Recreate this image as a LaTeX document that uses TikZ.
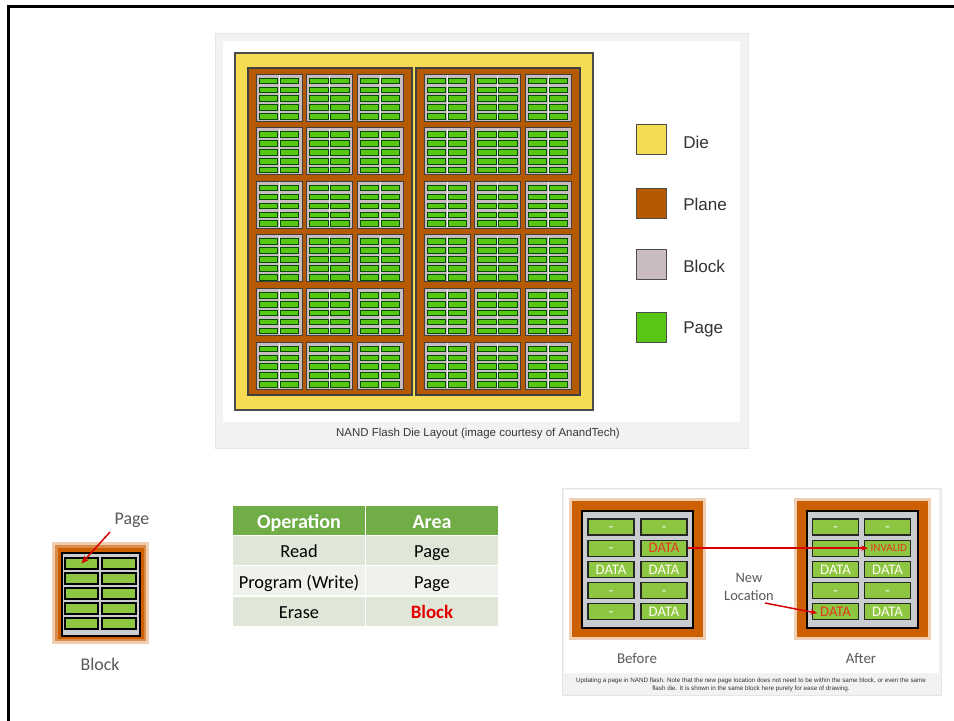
\documentclass[tikz,border=0pt]{standalone}
\usepackage{fontspec}
\setmainfont{Liberation Sans}
\newfontfamily\calfont{Carlito}
\usetikzlibrary{arrows.meta}
\definecolor{dieY}{HTML}{F6DC53}
\definecolor{planeO}{HTML}{B55A00}
\definecolor{blockG}{HTML}{C9BBC0}
\definecolor{pageG}{HTML}{58C714}
\definecolor{panelG}{HTML}{F2F2F2}
\definecolor{hdrG}{HTML}{70AD47}
\definecolor{rowA}{HTML}{DFE7D8}
\definecolor{rowB}{HTML}{EEF2EA}
\definecolor{bOr}{HTML}{CC5F00}
\definecolor{bGray}{HTML}{C9CDCF}
\definecolor{bPage}{HTML}{8DC641}
\definecolor{redT}{HTML}{E23A1E}
\definecolor{txtG}{HTML}{595959}
\tikzset{
  blk/.style={draw=black!75, line width=0.75pt, fill=blockG},
  pgs/.style={draw=black!70!green, line width=0.55pt, fill=pageG},
  legbox/.style={draw=black!70, line width=0.6pt, minimum size=22.5pt, inner sep=0pt},
  legtxt/.style={anchor=base west, inner sep=0pt, text=black!80, font=\fontsize{12.8}{15}\selectfont},
  cell/.style={minimum width=98.5pt, minimum height=22pt, inner sep=0pt, text height=10.5pt, text depth=0pt, font=\calfont\fontsize{13.8}{16}\selectfont},
  hdr/.style={cell, fill=hdrG, text=white, text height=12.5pt, font=\calfont\bfseries\fontsize{15}{17}\selectfont},
  smpg/.style={draw=black, line width=0.9pt, fill=bPage, inner sep=0pt, minimum height=8.25pt},
  brpg/.style={draw=black!85, line width=0.9pt, fill=bPage, inner sep=0pt, minimum width=34.5pt, minimum height=12pt, text height=7pt, text depth=0pt, text=white!94!yellow, font=\calfont\fontsize{11}{12}\selectfont},
  redarr/.style={draw=red!85!black, line width=1.1pt, -{Stealth[length=5pt,width=4pt]}},
  lbl/.style={text=txtG, font=\calfont\fontsize{10.8}{13}\selectfont, inner sep=0pt}
}
\begin{document}
\begin{tikzpicture}[x=0.75pt,y=-0.75pt]
\useasboundingbox (0,0) rectangle (954,721);
\fill[white] (0,0) rectangle (954,721);
\draw[line width=2.25pt] (8.5,721) -- (8.5,6) -- (954,6);

% ---------- die layout panel ----------
\fill[panelG, draw=black!10] (215,33) rectangle (748,448);
\fill[white] (223,41) rectangle (740,422);
\draw[fill=dieY, draw=black!70, line width=0.8pt] (235,53) rectangle (593,410);
\draw[fill=planeO, draw=black!75, line width=0.8pt] (248,68) rectangle (412,395);
\draw[fill=planeO, draw=black!75, line width=0.8pt] (416,68) rectangle (580,395);
\foreach \p in {0,1}{
 \foreach \c in {0,1,2}{
  \foreach \r in {0,...,5}{
   \pgfmathsetmacro\bx{256+168*\p+50.5*\c}
   \pgfmathsetmacro\by{74+53.6*\r}
   \draw[blk] (\bx,\by) rectangle ++(46,47);
   \draw[white!80!blockG, line width=0.6pt] ({\bx+23},{\by+1}) -- ++(0,45);
   \foreach \k in {0,1}{
    \foreach \j in {0,...,4}{
     \draw[pgs] ({\bx+3+21*\k},{\by+4+8.9*\j}) rectangle ++(18.5,5.6);
    }
   }
  }
 }
}
% legend
\node[legbox, fill=dieY] (lgdie) at (651,139) {};
\node[legbox, fill=planeO] (lgplane) at (651,203) {};
\node[legbox, fill=blockG] (lgblock) at (651,264) {};
\node[legbox, fill=pageG] (lgpage) at (651,327) {};
\node[legtxt] (tdie) at (683,148) {Die};
\node[legtxt] (tplane) at (683,210) {Plane};
\node[legtxt] (tblock) at (683,272) {Block};
\node[legtxt] (tpage) at (683,333) {Page};
\node[text=black!78, font=\fontsize{8.6}{10}\selectfont] (cap1) at (478,434) {NAND Flash Die Layout (image courtesy of AnandTech)};

% ---------- small block ----------
\fill[bOr, opacity=0.3] (52,542) rectangle (149,644);
\fill[bOr, opacity=0.6] (55,545) rectangle (146,641);
\fill[bOr] (57.5,547.5) rectangle (143.5,638.5);
\draw[fill=bGray, line width=1.5pt] (61.5,552.5) rectangle (139.5,635.5);
\foreach \j in {0,...,4}{
  \node[smpg, minimum width=24.75pt] (sl\j) at (81.5,{563.5+15*\j}) {};
  \node[smpg, minimum width=25.5pt] (sr\j) at (119,{563.5+15*\j}) {};
}
\node[lbl, font=\calfont\fontsize{13.4}{15}\selectfont] (pglbl) at (132,520) {Page};
\node[lbl, font=\calfont\fontsize{13.4}{15}\selectfont] (blklbl) at (100,664) {Block};
\coordinate (pgstart) at (110,532);
\draw[red!85!black, line width=1.1pt, -{Stealth[length=6pt,width=5pt]}] (pgstart) -- (sl0.center);

% ---------- table ----------
\node[hdr] (h1) at (299,520.5) {Operation};
\node[hdr] (h2) at (432,520.5) {Area};
\node[cell, fill=rowA] (r11) at (299,550.5) {Read};
\node[cell, fill=rowA] (r12) at (432,550.5) {Page};
\node[cell, fill=rowB] (r21) at (299,581) {Program (Write)};
\node[cell, fill=rowB] (r22) at (432,581) {Page};
\node[cell, fill=rowA] (r31) at (299,611) {Erase};
\node[cell, fill=rowA, text=red!90!black, font=\calfont\bfseries\fontsize{14.2}{16}\selectfont] (r32) at (432,611) {Block};
\draw[white, line width=1pt] (365.5,506) -- (365.5,626);
\draw[white, line width=1pt] (233,535.5) -- (498,535.5);
\draw[white, line width=1pt] (233,565.5) -- (498,565.5);
\draw[white, line width=1pt] (233,596) -- (498,596);

% ---------- before / after panel ----------
\fill[panelG, draw=black!10] (562,488) rectangle (941,695);
\fill[white] (564,490) rectangle (939,673);
\foreach \ox in {572,797}{
  \fill[bOr, opacity=0.3] ({\ox-3},498) rectangle ({\ox+134},640);
  \fill[bOr] (\ox,501) rectangle ({\ox+131},637);
  \draw[fill=bGray, line width=1.3pt] ({\ox+10},511) rectangle ({\ox+121},628);
}
% before pages
\node[brpg] (b00) at (611,527) {-};
\node[brpg] (b01) at (664,527) {-};
\node[brpg] (b10) at (611,548.2) {-};
\node[brpg, text=redT] (b11) at (664,548.2) {DATA};
\node[brpg] (b20) at (611,569.4) {DATA};
\node[brpg] (b21) at (664,569.4) {DATA};
\node[brpg] (b30) at (611,590.6) {-};
\node[brpg] (b31) at (664,590.6) {-};
\node[brpg] (b40) at (611,611.8) {-};
\node[brpg] (b41) at (664,611.8) {DATA};
% after pages
\node[brpg] (a00) at (835.5,527) {-};
\node[brpg] (a01) at (887.5,527) {-};
\node[brpg] (a10) at (835.5,548.2) {-};
\node[brpg, text=redT, text height=5.5pt, font=\calfont\fontsize{8.3}{10}\selectfont] (a11) at (887.5,548.2) {\hspace*{2pt}INVALID};
\node[brpg] (a20) at (835.5,569.4) {DATA};
\node[brpg] (a21) at (887.5,569.4) {DATA};
\node[brpg] (a30) at (835.5,590.6) {-};
\node[brpg] (a31) at (887.5,590.6) {-};
\node[brpg, text=redT] (a40) at (835.5,611.8) {DATA};
\node[brpg] (a41) at (887.5,611.8) {DATA};

\node[lbl, align=center] (newloc) at (749,587) {New\\[1pt]Location};
\node[lbl, font=\calfont\fontsize{11.2}{13}\selectfont] (before) at (637,658) {Before};
\node[lbl, font=\calfont\fontsize{11.2}{13}\selectfont] (after) at (861,658) {After};
\draw[redarr] (b11.east) -- ([xshift=3pt]a11.west);
\coordinate (nlstart) at (765,603);
\draw[redarr] (nlstart) -- ([xshift=4pt,yshift=-1pt]a40.west);
\node[align=center, text=black!80, font=\fontsize{4.7}{6}\selectfont, inner sep=0pt] (cap2) at (751,684.5) {Updating a page in NAND flash. Note that the new page location does not need to be within the same block, or even the same\\flash die. It is shown in the same block here purely for ease of drawing.};
\end{tikzpicture}
\end{document}
